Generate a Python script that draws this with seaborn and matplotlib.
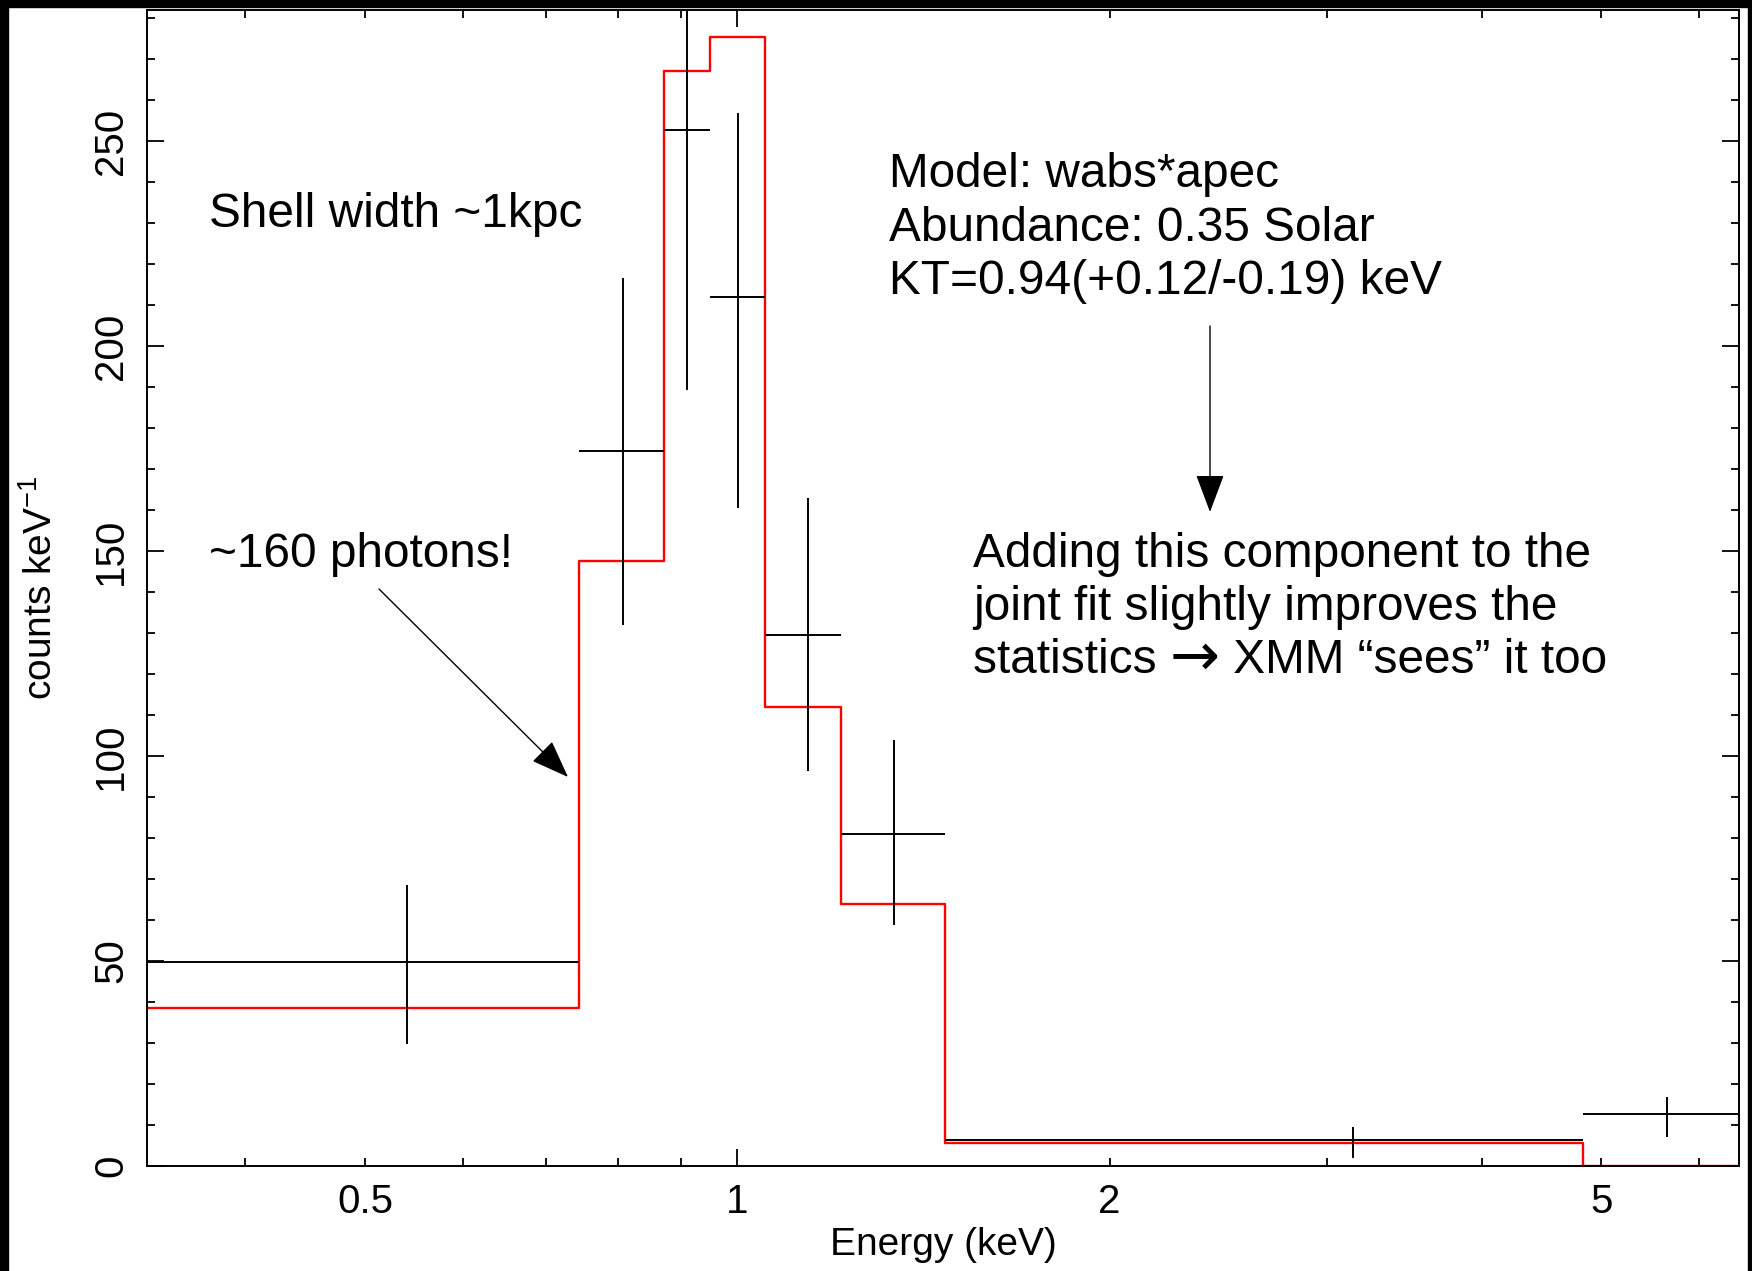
import numpy as np
import pandas as pd
import matplotlib
matplotlib.use('Agg')
import matplotlib.pyplot as plt
import seaborn as sns
from matplotlib.ticker import FixedLocator, MultipleLocator, FuncFormatter
from matplotlib.patches import Rectangle

# ---------------------------------------------------------
# data
# ---------------------------------------------------------
bin_lo = [0.33, 0.745, 0.872, 0.951, 1.053, 1.214, 1.473, 4.83]
bin_hi = [0.745, 0.872, 0.951, 1.053, 1.214, 1.473, 4.83, 6.47]
energy = [0.54, 0.808, 0.911, 1.002, 1.14, 1.34, 3.15, 5.65]
counts = [49.8, 174.4, 252.7, 212.0, 129.6, 81.0, 6.3, 12.6]
err_lo = [29.7, 132.0, 189.4, 160.5, 96.3, 58.7, 1.9, 7.1]
err_hi = [68.5, 216.7, 300.0, 256.8, 163.0, 104.0, 9.6, 16.9]

model_edges = [0.33, 0.745, 0.872, 0.951, 1.053, 1.214, 1.473, 4.83, 6.6]
model_vals = [38.5, 147.7, 267.0, 275.4, 112.0, 64.0, 5.6, 0.0]

x_labels = {0.5: '0.5', 2: '2', 5: '5'}
x_minor = [0.4, 0.5, 0.6, 0.7, 0.8, 0.9, 2, 3, 4, 5, 6]

# ---------------------------------------------------------
# style
# ---------------------------------------------------------
sns.set_theme(style='ticks')
plt.rcParams['font.family'] = ['Liberation Sans', 'DejaVu Sans']
plt.rcParams['mathtext.fontset'] = 'custom'
plt.rcParams['mathtext.rm'] = 'Liberation Sans'
plt.rcParams['mathtext.it'] = 'Liberation Sans'

W, H = 1752, 1271
fig = plt.figure(figsize=(W / 100, H / 100), dpi=100)
fig.patch.set_facecolor('white')
ax = fig.add_axes([147 / W, 1 - 1166 / H, (1739 - 147) / W, (1166 - 10) / H])

# black frame strips of the screenshot
for (x0, y0, w, h) in [(0, 0, 8, H), (0, H - 7, W, 7), (W - 4, 0, 4, H)]:
    fig.patches.append(Rectangle((x0 / W, y0 / H), w / W, h / H,
                                 transform=fig.transFigure, color='black', zorder=5))

# model (red step)
df_model = pd.DataFrame({'E': model_edges, 'N': model_vals + [model_vals[-1]]})
sns.lineplot(data=df_model, x='E', y='N', ax=ax, color='#ff0000', lw=1.7,
             drawstyle='steps-post', estimator=None, sort=False, zorder=2)

# data crosses
e = np.array(energy)
c = np.array(counts)
xerr = [e - np.array(bin_lo), np.array(bin_hi) - e]
yerr = [c - np.array(err_lo), np.array(err_hi) - c]
ax.errorbar(e, c, xerr=xerr, yerr=yerr, fmt='none', ecolor='black',
            elinewidth=1.4, capsize=0, zorder=3)

# ---------------------------------------------------------
# axes
# ---------------------------------------------------------
ax.set_xscale('log')
ax.set_xlim(0.333, 6.46)
ax.set_ylim(0, 282)

ax.xaxis.set_major_locator(FixedLocator([1]))
ax.xaxis.set_major_formatter(FuncFormatter(lambda v, p: '1'))
ax.xaxis.set_minor_locator(FixedLocator(x_minor))
ax.xaxis.set_minor_formatter(FuncFormatter(lambda v, p: x_labels.get(round(v, 2), '')))
ax.yaxis.set_major_locator(MultipleLocator(50))
ax.yaxis.set_minor_locator(MultipleLocator(10))

ax.tick_params(which='both', direction='in', top=True, right=True,
               color='black', width=1.3, labelsize=29, labelcolor='black')
ax.tick_params(which='major', length=12, pad=12)
ax.tick_params(which='minor', length=6, pad=12)
ax.tick_params(axis='y', labelrotation=90)
for lab in ax.get_yticklabels():
    lab.set_va('center')

for s in ax.spines.values():
    s.set_color('black')
    s.set_linewidth(1.4)

ax.set_xlabel('Energy (keV)', fontsize=28, color='black')
ax.set_ylabel('counts keV$^{-1}$', fontsize=28, color='black')
ax.xaxis.set_label_coords(0.5, -0.053)
ax.yaxis.set_label_coords(-0.055, 0.5)

# ---------------------------------------------------------
# annotations
# ---------------------------------------------------------
def put(x, y_base, txt, size=34.4, **kw):
    return fig.text(x / W, 1 - y_base / H, txt, fontsize=size, color='black',
                    va='baseline', ha='left', **kw)

put(209, 227, 'Shell width ~1kpc')
put(209, 567, '~160 photons!')
for yb, t in zip([187, 241, 294],
                 ['Model: wabs*apec', 'Abundance: 0.35 Solar', 'KT=0.94(+0.12/-0.19) keV']):
    put(889, yb, t)
for yb, t in zip([567, 620, 673],
                 ['Adding this component to the', 'joint fit slightly improves the']):
    put(973, yb, t)

# last line: the arrow glyph comes from DejaVu Sans, a bit larger, like the original
renderer = fig.canvas.get_renderer()
x_cur = 973
for part, fam, size, yb in [('statistics ', None, 34.4, 673),
                            ('\u2192', ['DejaVu Sans'], 43, 675),
                            (' XMM \u201csees\u201d it too', None, 34.4, 673)]:
    kw = {'family': fam} if fam else {}
    t = put(x_cur, yb, part, size=size, **kw)
    x_cur += t.get_window_extent(renderer).width

arrow = dict(arrowstyle='-|>,head_length=0.8,head_width=0.3', color='black',
             lw=1.0, mutation_scale=30, shrinkA=0, shrinkB=0)
ax.annotate('', xy=(568, H - 777), xytext=(379, H - 589),
            xycoords='figure pixels', textcoords='figure pixels', arrowprops=arrow)
ax.annotate('', xy=(1210, H - 512), xytext=(1210, H - 326),
            xycoords='figure pixels', textcoords='figure pixels', arrowprops=arrow)

fig.savefig('out.png', dpi=100, facecolor='white')
